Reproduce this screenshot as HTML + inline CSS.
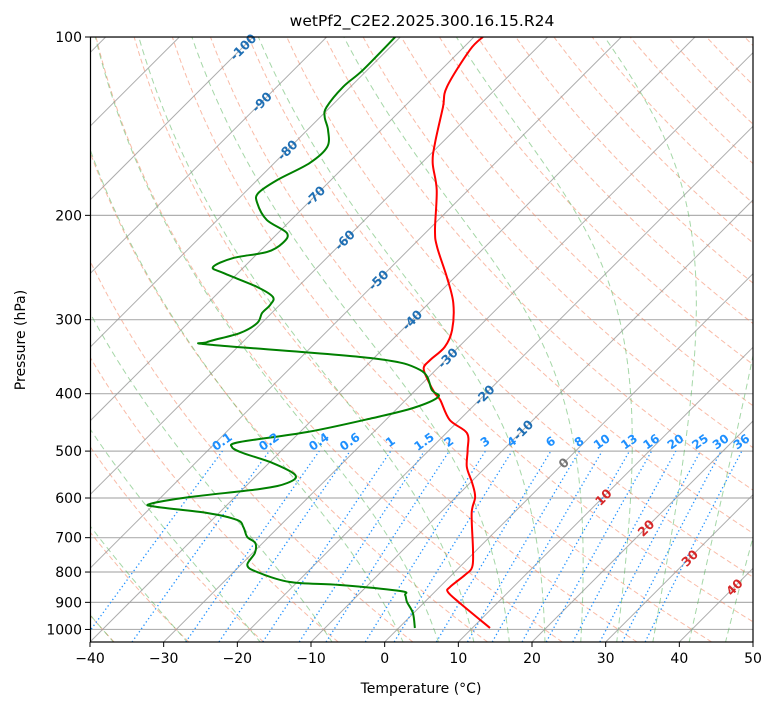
<!DOCTYPE html>
<html><head><meta charset="utf-8">
<style>
html,body{margin:0;padding:0;background:#fff;}
svg{display:block;font-family:"DejaVu Sans","Liberation Sans",sans-serif;}
</style></head>
<body>
<svg id="chart" width="775" height="708" viewBox="0 0 775 708" xmlns="http://www.w3.org/2000/svg">
<defs><clipPath id="plotclip"><rect x="90" y="37" width="663" height="605"/></clipPath></defs>
<rect x="0" y="0" width="775" height="708" fill="#fff"/>
<text x="422" y="26" text-anchor="middle" font-size="15.5" fill="#000">wetPf2_C2E2.2025.300.16.15.R24</text>
<g id="plot" clip-path="url(#plotclip)"></g>
<g id="labels"></g>
<rect x="90.5" y="37" width="662.5" height="605" fill="none" stroke="#000" stroke-width="1.2"/>
<g id="axes"></g>
<text x="421" y="693" text-anchor="middle" font-size="14">Temperature (°C)</text>
<text x="25" y="340" text-anchor="middle" font-size="14" transform="rotate(-90 25 340)">Pressure (hPa)</text>
</svg>
<script>
// ---- data ----
const tempP = [100,105.2,121.4,131.3,151.0,163.2,181.2,211.7,226.2,254.2,281.2,312.3,333.6,350.9,362.0,379.3,399.0,410.0,443.1,466.1,497.9,531.9,566.0,597.7,636.0,734.3,784.5,809.3,848.0,864.6,902.3,994.4];
const tempT = [-68.8,-68.8,-66.9,-64.7,-60.9,-58.5,-54.3,-49.1,-46.5,-41.1,-36.7,-33.2,-31.9,-32.1,-31.9,-29.7,-27.0,-25.3,-21.3,-17.2,-14.8,-12.6,-9.7,-7.4,-5.7,-0.5,1.7,1.8,1.4,1.8,4.9,12.4];
const dewP = [100,113.7,121.4,131.3,136.5,143.5,153.3,163.2,174.3,183.4,190.6,203.6,214.2,222.7,230.6,236.1,244.5,250.2,264.2,274.7,283.4,292.3,303.9,316.0,327.2,331.0,348.2,364.8,394.3,405.2,422.9,439.6,464.3,482.7,492.1,503.7,523.7,548.7,566.0,579.3,597.7,614.1,621.3,636.0,653.5,671.5,698.2,714.6,743.0,778.5,800.0,831.7,841.5,861.3,874.7,898.8,938.2,994.4];
const dewT = [-80.7,-80.6,-81.0,-80.5,-79.4,-77.2,-75.0,-75.2,-77.3,-78.1,-76.9,-73.3,-68.8,-68.0,-68.9,-72.7,-74.2,-72.0,-65.5,-62.0,-61.3,-61.3,-60.6,-61.6,-64.8,-63.6,-40.5,-32.1,-27.8,-26.0,-27.9,-32.0,-39.0,-46.8,-47.2,-44.9,-39.5,-34.8,-34.8,-37.7,-46.1,-50.6,-49.2,-41.6,-36.6,-34.8,-32.9,-31.0,-29.7,-29.1,-26.8,-21.0,-13.8,-4.8,-3.6,-2.4,-0.1,2.2];
const xTicks = [-40,-30,-20,-10,0,10,20,30,40,50];
const yTicks = [100,200,300,400,500,600,700,800,900,1000];
const mixRatios = [0.1,0.2,0.4,0.6,1,1.5,2,3,4,6,8,10,13,16,20,25,30,36];
const mixLabels = ["0.1","0.2","0.4","0.6","1","1.5","2","3","4","6","8","10","13","16","20","25","30","36"];
const isoLabelT = [-100,-90,-80,-70,-60,-50,-40,-30,-20,-10,0,10,20,30,40];
const isoLabelY = [47,102,150,196,240,280,320,358,395,430,463,497,528,558,587];

// ---- axis functions ----
const X0=90, X1=753, Y0=37, Y1=642, TMIN=-40, TMAX=50, PTOP=100, PBOT=1050;
const kx=(X1-X0)/(TMAX-TMIN);
function yP(p){return Y0+(Y1-Y0)*Math.log(p/PTOP)/Math.log(PBOT/PTOP);}
function xT(t,y){return X0+(t-TMIN)*kx+(Y1-y);}
const NS='http://www.w3.org/2000/svg';
const plot=document.getElementById('plot'), labs=document.getElementById('labels'), axes=document.getElementById('axes');
function mk(tag,attrs,parent){const e=document.createElementNS(NS,tag);for(const k in attrs)e.setAttribute(k,attrs[k]);parent.appendChild(e);return e;}
function pathFrom(ps,ts){let d='';for(let i=0;i<ps.length;i++){const y=yP(ps[i]);d+=(i?'L':'M')+xT(ts[i],y).toFixed(2)+','+y.toFixed(2);}return d;}
function smoothFrom(ps,ts){const pts=ps.map((p,i)=>{const y=yP(p);return [xT(ts[i],y),y];});
 let d='M'+pts[0][0].toFixed(2)+','+pts[0][1].toFixed(2);
 for(let i=0;i<pts.length-1;i++){const p0=pts[Math.max(0,i-1)],p1=pts[i],p2=pts[i+1],p3=pts[Math.min(pts.length-1,i+2)];
  const c1=[p1[0]+(p2[0]-p0[0])/6,p1[1]+(p2[1]-p0[1])/6],c2=[p2[0]-(p3[0]-p1[0])/6,p2[1]-(p3[1]-p1[1])/6];
  d+='C'+c1[0].toFixed(2)+','+c1[1].toFixed(2)+' '+c2[0].toFixed(2)+','+c2[1].toFixed(2)+' '+p2[0].toFixed(2)+','+p2[1].toFixed(2);}
 return d;}
const pgrid=[];for(let lp=Math.log(PBOT);lp>=Math.log(PTOP)-1e-9;lp-=0.02)pgrid.push(Math.exp(lp));pgrid.push(PTOP);

// horizontal grid
yTicks.forEach(p=>{const y=yP(p);
 const l=mk('line',{x1:X0,x2:X1,y1:y,y2:y,stroke:'#b0b0b0','stroke-width':1.2},plot);
 
 });

// dry adiabats
for(let th=-40;th<=250;th+=10){const ts=pgrid.map(p=>(th+273.15)*Math.pow(p/1000,0.2857)-273.15);
 const e=mk('path',{d:pathFrom(pgrid,ts),fill:'none',stroke:'#f4845f','stroke-opacity':0.55,'stroke-width':1,'stroke-dasharray':'5,3'},plot);
 
 }

// moist adiabats
function es(t){return 6.112*Math.exp(17.67*t/(t+243.5));}
function dTdp(p,T){const tc=T-273.15;const e=es(tc);const rs=0.622*e/(p-e);const Rd=287.04,Lv=2.501e6,Cp=1005.7,eps=0.622;
 return (Rd*T+Lv*rs)/(p*(Cp+Lv*Lv*rs*eps/(Rd*T*T)));}
function moist(t0){const up=[],dn=[];let T=t0+273.15;let p=1000;
 for(;p>PTOP-1;){up.push([p,T-273.15]);const dp=-5;const k1=dTdp(p,T),k2=dTdp(p+dp/2,T+k1*dp/2),k3=dTdp(p+dp/2,T+k2*dp/2),k4=dTdp(p+dp,T+k3*dp);T+=dp*(k1+2*k2+2*k3+k4)/6;p+=dp;}
 T=t0+273.15;p=1000;for(;p<=PBOT+5;){dn.push([p,T-273.15]);const dp=5;const k1=dTdp(p,T);T+=dp*k1;p+=dp;}
 const pts=dn.reverse().concat(up);return [pts.map(a=>a[0]),pts.map(a=>a[1])];}
const mT=[];for(let t=-40;t<0;t+=10)mT.push(t);for(let t=0;t<=100;t+=5)mT.push(t);
mT.forEach(t=>{const r=moist(t);
 const e=mk('path',{d:pathFrom(r[0],r[1]),fill:'none',stroke:'#4caf50','stroke-opacity':0.5,'stroke-width':1,'stroke-dasharray':'6,4'},plot);
 
 });

// isotherms
for(let t=-160;t<=50;t+=10){const e=mk('line',{x1:xT(t,Y1),y1:Y1,x2:xT(t,Y0),y2:Y0,stroke:'#999','stroke-opacity':0.8,'stroke-width':1},plot);
 
 }

// mixing ratio lines
function tdFor(w,p){const e=p*w/(622+w);const l=Math.log(e/6.112);return 243.5*l/(17.67-l);}
const mp=pgrid.filter(p=>p>=500);mp.push(500);
mixRatios.forEach((w,i)=>{const ts=mp.map(p=>tdFor(w,p));
 const e=mk('path',{d:pathFrom(mp,ts),fill:'none',stroke:'#1e90ff','stroke-width':1.3,'stroke-dasharray':'1.3,2.7'},plot);
 
 
 const y=yP(500), x=xT(tdFor(w,500),y);
 const tx=mk('text',{x:x+2,y:y-6,'text-anchor':'middle','font-size':12,'font-weight':'bold',fill:'#1e90ff',transform:`rotate(-35 ${x+2} ${y-6})`},labs);
 tx.textContent=mixLabels[i];
 
 });

// isotherm labels
isoLabelT.forEach((t,i)=>{const y=isoLabelY[i], x=xT(t,y);
 const c=t<0?'#1f6fb4':(t===0?'#777':'#d62728');
 const tx=mk('text',{x:x,y:y+4.5,'text-anchor':'middle','font-size':12.5,'font-weight':'bold',fill:c,transform:`rotate(-45 ${x} ${y})`},labs);
 tx.textContent=String(t);
 
 });

// profiles
const tl=mk('path',{d:smoothFrom(tempP,tempT),fill:'none',stroke:'#ff0000','stroke-width':2,'stroke-linejoin':'round'},plot);


const dl=mk('path',{d:smoothFrom(dewP,dewT),fill:'none',stroke:'#008000','stroke-width':2,'stroke-linejoin':'round'},plot);



// axes ticks
xTicks.forEach(t=>{const x=X0+(t-TMIN)*kx;
 mk('line',{x1:x,x2:x,y1:Y1,y2:Y1+5,stroke:'#000','stroke-width':1},axes);
 const tx=mk('text',{x:x,y:Y1+21,'text-anchor':'middle','font-size':14},axes);
 tx.textContent=(t<0?'\u2212'+(-t):String(t));
 
 });
yTicks.forEach(p=>{const y=yP(p);
 mk('line',{x1:X0-5,x2:X0,y1:y,y2:y,stroke:'#000','stroke-width':1},axes);
 const tx=mk('text',{x:X0-8,y:y+5,'text-anchor':'end','font-size':14},axes);
 tx.textContent=String(p);
 
 });
</script>
</body></html>
